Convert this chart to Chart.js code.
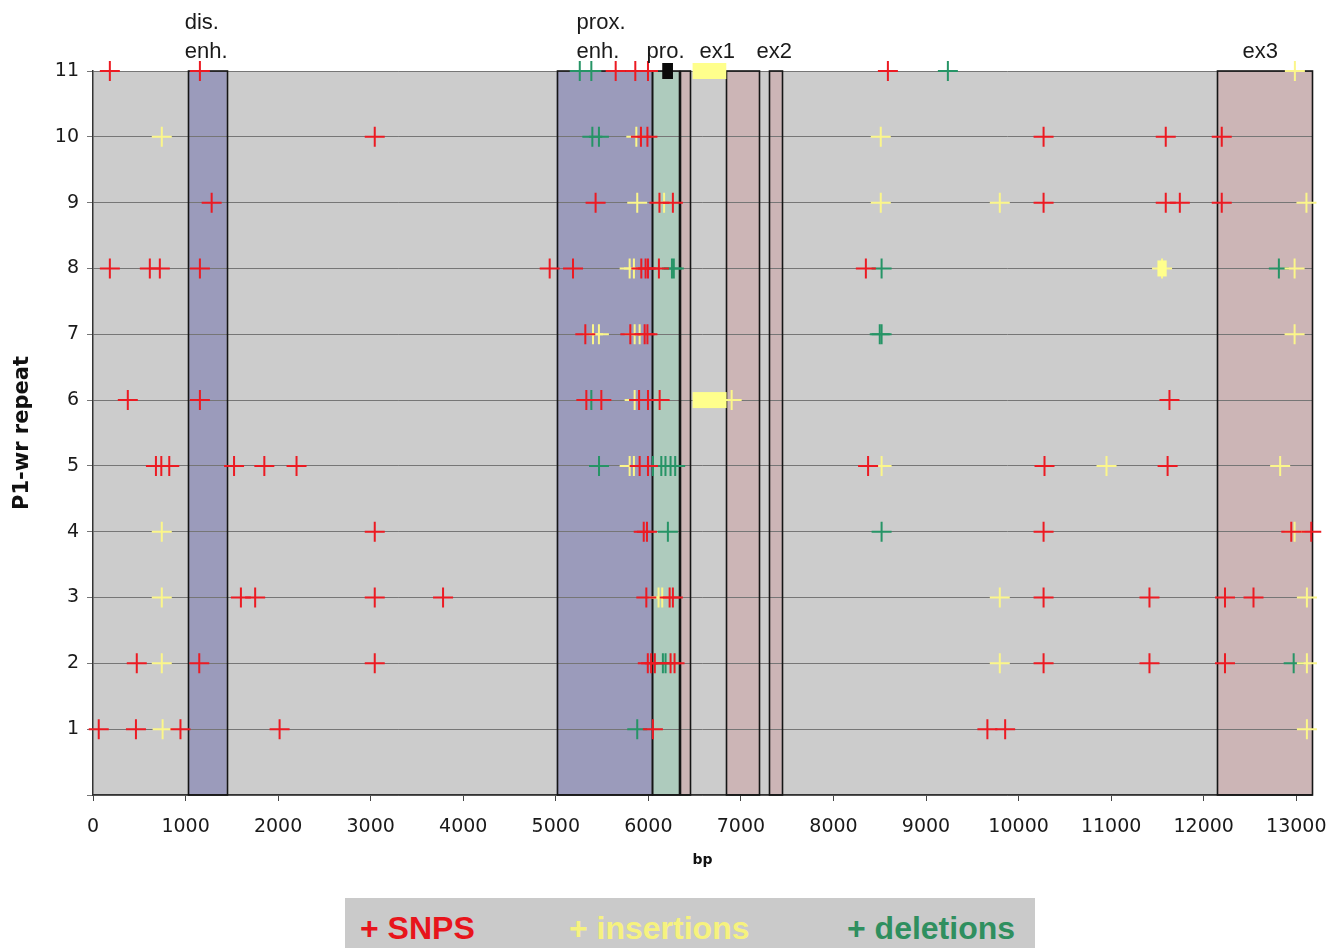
<!DOCTYPE html>
<html><head><meta charset="utf-8">
<script src="https://cdn.jsdelivr.net/npm/chart.js@4/dist/chart.umd.min.js"></script>
<style>
html,body{margin:0;padding:0;background:#fff;}
#wrap{position:relative;width:1343px;height:948px;overflow:hidden;}
#c{position:absolute;left:0;top:0;}
#legend{position:absolute;left:345px;top:898px;width:690px;height:50px;background:#cacaca;font-family:"Liberation Sans",Arial,sans-serif;font-weight:bold;font-size:32px;}
#legend span{position:absolute;top:12px;white-space:nowrap;line-height:36px;}
</style></head>
<body><div id="wrap"><canvas id="c" width="1343" height="948"></canvas>
<div id="legend"><span style="left:15px;color:#e8141b">+ SNPS</span><span style="left:224px;color:#f6f27e">+ insertions</span><span style="left:502px;color:#2f8f5f">+ deletions</span></div></div>
<script>
// ---- data ----
const rows = [1,2,3,4,5,6,7,8,9,10,11];
const xTickValues = [0,1000,2000,3000,4000,5000,6000,7000,8000,9000,10000,11000,12000,13000];
const xMax = 13170;
// SNP positions (bp) for each P1-wr repeat row 1..11
const snpPositions = [
  [62, 464, 945, 2016, 6049, 9663, 9855],
  [473, 1148, 3044, 5994, 6030, 6070, 6240, 6283, 10270, 11414, 12230],
  [1598, 1752, 3044, 3782, 5978, 6230, 6265, 10270, 11414, 12230, 12538],
  [3044, 5950, 5985, 10270, 12946, 13162],
  [680, 738, 824, 1524, 1851, 2199, 5906, 5996, 8374, 10280, 11610],
  [376, 1155, 5330, 5492, 5900, 5996, 6122, 11630],
  [5319, 5805, 5960, 5990],
  [182, 614, 722, 1155, 4934, 5186, 5924, 5970, 5996, 6114, 8350],
  [1282, 5430, 6120, 6265, 10270, 11590, 11742, 12195],
  [3044, 5920, 5990, 10270, 11590, 12195],
  [182, 1155, 5647, 5859, 5996, 8588]
];
const insertionPositions = [
  [752, 13115],
  [743, 9797, 13115],
  [743, 6110, 6150, 9797, 13115],
  [743, 12982],
  [5798, 5844, 8520, 10950, 12826],
  [5852, 6900],
  [5402, 5466, 5852, 5906, 12982],
  [5798, 5844, 11550, 12982],
  [5880, 6170, 8511, 9797, 13110],
  [743, 5870, 8511],
  [12985]
];
const deletionPositions = [
  [5880],
  [6157, 6186, 12972],
  [],
  [6211, 8520],
  [5467, 6049, 6140, 6185, 6240, 6290],
  [5384],
  [8500, 8520],
  [6255, 6275, 8520, 12812],
  [],
  [5395, 5466],
  [5259, 5384, 9236]
];
// long insertions / other blocks: row, start, end
const insertionBlockRow = [11, 6, 8];
const insertionBlockStart = [6478, 6478, 11500];
const insertionBlockEnd = [6842, 6845, 11600];
const blackBlockRow = [11];
const blackBlockStart = [6150];
const blackBlockEnd = [6266];
// annotated regions
const regionStart = [1030, 5010, 6038, 6340, 6842, 7308, 12145];
const regionEnd   = [1445, 6038, 6330, 6452, 7198, 7442, 13170];
const regionKind  = ['enh', 'enh', 'pro', 'ex', 'ex', 'ex', 'ex'];
const labelText = [['dis.', 'enh.'], ['prox.', 'enh.'], ['pro.'], ['ex1'], ['ex2'], ['ex3']];
const labelPos  = [991, 5225, 5981, 6553, 7169, 12420];

// ---- build ----
function toPoints(arr){ const out=[]; arr.forEach((list,i)=>list.forEach(v=>out.push({x:v,y:rows[i]}))); return out; }
const kindFill = {enh:'#9b9bbb', pro:'#aecbbd', ex:'#ccb5b6'};

const regionPlugin = {
  id:'regions',
  beforeDraw(chart){
    const {ctx, chartArea:a, scales:{x,y}} = chart;
    ctx.save();
    ctx.fillStyle = '#cccccc';
    ctx.fillRect(a.left, a.top, a.right-a.left, a.bottom-a.top);
    const yt = y.getPixelForValue(11), yb = y.getPixelForValue(0);
    regionStart.forEach((s,i)=>{
      const x0 = x.getPixelForValue(s), x1 = x.getPixelForValue(regionEnd[i]);
      ctx.fillStyle = kindFill[regionKind[i]];
      ctx.fillRect(x0, yt, x1-x0, yb-yt);
    });
    ctx.restore();
  },
  beforeDatasetsDraw(chart){
    const {ctx, scales:{x,y}} = chart;
    ctx.save();
    const yt = y.getPixelForValue(11), yb = y.getPixelForValue(0);
    ctx.strokeStyle = '#151515'; ctx.lineWidth = 1.6;
    regionStart.forEach((s,i)=>{
      const x0 = Math.round(x.getPixelForValue(s))+0.5, x1 = Math.round(x.getPixelForValue(regionEnd[i]))+0.5;
      ctx.strokeRect(x0, yt, x1-x0, yb-yt);
    });
    ctx.restore();
  },
  afterDatasetsDraw(chart){
    const {ctx, scales:{x,y}} = chart;
    ctx.save();
    ctx.fillStyle = '#ffff8c';
    insertionBlockRow.forEach((r,i)=>{
      const x0 = x.getPixelForValue(insertionBlockStart[i]), x1 = x.getPixelForValue(insertionBlockEnd[i]);
      const yc = y.getPixelForValue(r);
      ctx.fillRect(x0, yc-8, x1-x0, 16);
    });
    ctx.fillStyle = '#0a0a0a';
    blackBlockRow.forEach((r,i)=>{
      const x0 = x.getPixelForValue(blackBlockStart[i]), x1 = x.getPixelForValue(blackBlockEnd[i]);
      const yc = y.getPixelForValue(r);
      ctx.fillRect(x0, yc-8, x1-x0, 16);
    });
    // region labels
    ctx.fillStyle = '#1a1a1a';
    ctx.font = '22px "Liberation Sans", Arial, sans-serif';
    ctx.textAlign = 'left'; ctx.textBaseline = 'alphabetic';
    const yt = y.getPixelForValue(11);
    labelText.forEach((lines,i)=>{
      const px = x.getPixelForValue(labelPos[i]);
      const n = lines.length;
      lines.forEach((t,j)=>{
        ctx.fillText(t, px, yt - 13 - (n-1-j)*29);
      });
    });
    ctx.restore();
  }
};

const common = {pointStyle:'cross', pointRadius:10, pointHoverRadius:10, borderWidth:2, showLine:false, clip:false};
new Chart(document.getElementById('c'), {
  type:'scatter',
  data:{datasets:[
    Object.assign({label:'SNPS', data:toPoints(snpPositions), borderColor:'#ec1a22', backgroundColor:'#ec1a22'}, common),
    Object.assign({label:'insertions', data:toPoints(insertionPositions), borderColor:'#fbf68a', backgroundColor:'#fbf68a'}, common),
    Object.assign({label:'deletions', data:toPoints(deletionPositions), borderColor:'#269466', backgroundColor:'#269466'}, common)
  ]},
  options:{
    responsive:false, animation:false, devicePixelRatio:1,
    layout:{padding:{left:0, top:71, right:31, bottom:73}},
    plugins:{legend:{display:false}, tooltip:{enabled:false}},
    scales:{
      x:{type:'linear', min:0, max:xMax,
        afterBuildTicks(s){ s.ticks = xTickValues.map(v=>({value:v})); },
        afterFit(s){ s.height = 80; },
        grid:{drawOnChartArea:false, drawTicks:true, tickLength:6, color:'#444'},
        border:{color:'#333', width:1.5},
        ticks:{color:'#1a1a1a', padding:15, maxRotation:0, autoSkip:false, font:{family:'"DejaVu Sans", Verdana, sans-serif', size:19}, callback:(v)=>String(v)},
        title:{display:true, text:'bp', color:'#111', font:{family:'"DejaVu Sans", Verdana, sans-serif', size:14, weight:'bold'}, padding:{top:0,bottom:6}}
      },
      y:{type:'linear', min:0, max:11,
        afterBuildTicks(s){ s.ticks = [0].concat(rows).map(v=>({value:v})); },
        afterFit(s){ s.width = 93; },
        grid:{color:'#767676', lineWidth:1, tickLength:6},
        border:{color:'#333', width:1.5},
        ticks:{color:'#1a1a1a', padding:8, font:{family:'"DejaVu Sans", Verdana, sans-serif', size:19}, callback:(v)=> v===0 ? '' : String(v)},
        title:{display:true, text:'P1-wr repeat', color:'#111', font:{family:'"DejaVu Sans", Verdana, sans-serif', size:21, weight:'bold'}, padding:{top:10,bottom:0}}
      }
    }
  },
  plugins:[regionPlugin]
});
</script>
</body></html>
